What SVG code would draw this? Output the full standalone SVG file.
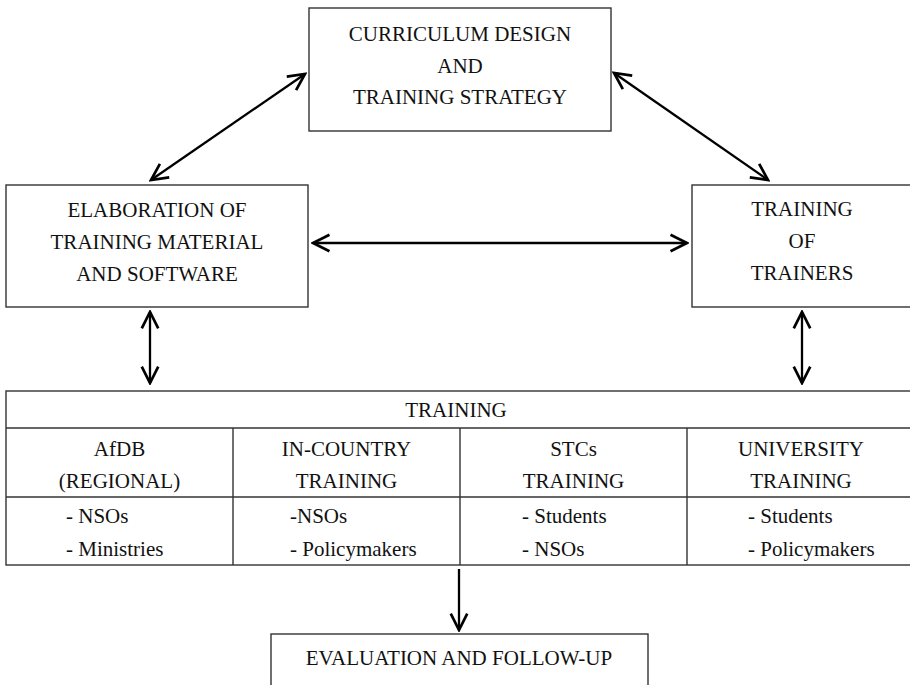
<svg xmlns="http://www.w3.org/2000/svg" width="910" height="685" viewBox="0 0 910 685">
<style>
.box{fill:#fff;stroke:#333;stroke-width:1.4}
.ln{stroke:#333;stroke-width:1.4;fill:none}
.t{font-family:"Liberation Serif","Times New Roman",serif;font-size:21px;fill:#111;text-anchor:middle}
.l{text-anchor:start}
.c{stroke:#000;stroke-width:2.3;fill:none}
</style>
<defs>
<marker id="ah" markerUnits="userSpaceOnUse" markerWidth="20" markerHeight="20" viewBox="-15 -8 17 16" refX="0" refY="0" orient="auto-start-reverse">
<path d="M-14,-7 L0,0 L-14,7" fill="none" stroke="#000" stroke-width="2.3"/>
</marker>
</defs>
<rect width="910" height="685" fill="#fff"/>
<g id="curriculum">
<rect class="box" x="309" y="8" width="302" height="123"/>
<text class="t" x="460" y="41">CURRICULUM DESIGN</text>
<text class="t" x="460" y="73">AND</text>
<text class="t" x="460" y="104">TRAINING STRATEGY</text>
</g>
<g id="elaboration">
<rect class="box" x="6" y="185" width="302" height="122"/>
<text class="t" x="157" y="217">ELABORATION OF</text>
<text class="t" x="157" y="249">TRAINING MATERIAL</text>
<text class="t" x="157" y="281">AND SOFTWARE</text>
</g>
<g id="trainers">
<rect class="box" x="692" y="185" width="230" height="122"/>
<text class="t" x="802" y="216">TRAINING</text>
<text class="t" x="802" y="248">OF</text>
<text class="t" x="802" y="280">TRAINERS</text>
</g>
<g id="training">
<rect class="box" x="6" y="391" width="916" height="174"/>
<line class="ln" x1="6" y1="428" x2="922" y2="428"/>
<line class="ln" x1="6" y1="497" x2="922" y2="497"/>
<line class="ln" x1="233" y1="428" x2="233" y2="565"/>
<line class="ln" x1="460" y1="428" x2="460" y2="565"/>
<line class="ln" x1="687" y1="428" x2="687" y2="565"/>
<text class="t" x="456" y="417">TRAINING</text>
<text class="t" x="119.5" y="456">AfDB</text>
<text class="t" x="119.5" y="488">(REGIONAL)</text>
<text class="t" x="346.5" y="456">IN-COUNTRY</text>
<text class="t" x="346.5" y="488">TRAINING</text>
<text class="t" x="573.5" y="456">STCs</text>
<text class="t" x="573.5" y="488">TRAINING</text>
<text class="t" x="801" y="456">UNIVERSITY</text>
<text class="t" x="801" y="488">TRAINING</text>
<text class="t l" x="66" y="523">- NSOs</text>
<text class="t l" x="66" y="556">- Ministries</text>
<text class="t l" x="290" y="523">-NSOs</text>
<text class="t l" x="290" y="556">- Policymakers</text>
<text class="t l" x="522" y="523">- Students</text>
<text class="t l" x="522" y="556">- NSOs</text>
<text class="t l" x="748" y="523">- Students</text>
<text class="t l" x="748" y="556">- Policymakers</text>
</g>
<g id="evaluation">
<rect class="box" x="271" y="634" width="377" height="70"/>
<text class="t" x="459" y="665">EVALUATION AND FOLLOW-UP</text>
</g>
<g id="connectors">
<line class="c" x1="305" y1="74" x2="151" y2="180" marker-start="url(#ah)" marker-end="url(#ah)"/>
<line class="c" x1="614" y1="73" x2="768" y2="180" marker-start="url(#ah)" marker-end="url(#ah)"/>
<line class="c" x1="313" y1="243" x2="687" y2="243" marker-start="url(#ah)" marker-end="url(#ah)"/>
<line class="c" x1="150" y1="312" x2="150" y2="383" marker-start="url(#ah)" marker-end="url(#ah)"/>
<line class="c" x1="802" y1="312" x2="802" y2="383" marker-start="url(#ah)" marker-end="url(#ah)"/>
<line class="c" x1="459" y1="569" x2="459" y2="630" marker-end="url(#ah)"/>
</g>
</svg>
